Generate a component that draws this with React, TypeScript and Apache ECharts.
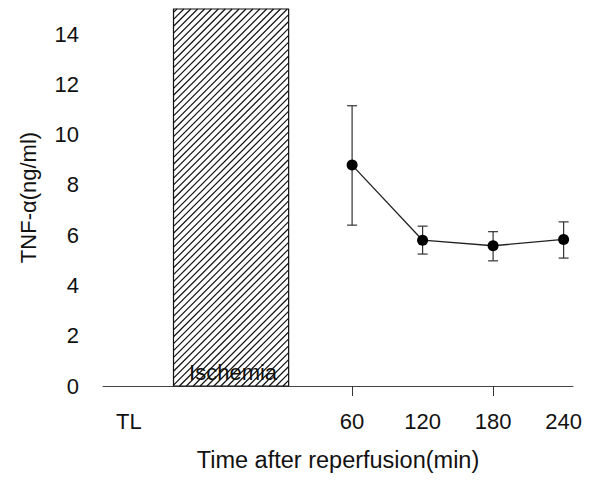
import React, { useEffect, useRef } from "react";
import * as echarts from "echarts";

// ---- data ----
const times = [60, 120, 180, 240];
const means = [8.79, 5.8, 5.58, 5.83];
const errUpper = [11.15, 6.36, 6.14, 6.53];
const errLower = [6.4, 5.25, 4.98, 5.09];

const xLabelValues = [-130, 60, 120, 180, 240];
const xLabelTexts = ["TL", "60", "120", "180", "240"];
const xTickValues = [60, 180];
const yTickValues = [0, 2, 4, 6, 8, 10, 12, 14];

const ischemiaStart = -92;
const ischemiaEnd = 6;
const ischemiaLabel = "Ischemia";

const FONT = "Liberation Sans, Arial, sans-serif";

export default function App() {
  const ref = useRef<HTMLDivElement>(null);

  useEffect(() => {
    if (!ref.current) return;
    const chart = echarts.init(ref.current, undefined, { renderer: "svg" });

    const errData = times.map((t, i) => [t, errLower[i], errUpper[i]]);
    const lineData = times.map((t, i) => [t, means[i]]);

    chart.setOption({
      animation: false,
      backgroundColor: "#ffffff",
      grid: { left: 103, right: 21, top: 9, bottom: 94, containLabel: false, outerBoundsMode: "none" },
      xAxis: {
        type: "value",
        min: -152,
        max: 248,
        name: "Time after reperfusion(min)",
        nameLocation: "middle",
        nameGap: 62,
        nameTextStyle: { fontFamily: FONT, fontSize: 23.5, color: "#111" },
        axisLine: { show: true, lineStyle: { color: "#444", width: 1 } },
        axisTick: { show: true, length: 10, inside: false, customValues: xTickValues, lineStyle: { color: "#333" } },
        axisLabel: {
          customValues: xLabelValues,
          margin: 24,
          fontFamily: FONT,
          fontSize: 22,
          color: "#111",
          formatter: (v: number) => {
            const i = xLabelValues.indexOf(v);
            return i >= 0 ? xLabelTexts[i] : "";
          },
        },
        splitLine: { show: false },
      },
      yAxis: {
        type: "value",
        min: 0,
        max: 15,
        name: "TNF-α(ng/ml)",
        nameLocation: "middle",
        nameGap: 64,
        nameTextStyle: { fontFamily: FONT, fontSize: 22, color: "#111" },
        axisLine: { show: true, lineStyle: { color: "#444", width: 1 } },
        axisTick: { show: true, length: 10, inside: false, customValues: yTickValues, lineStyle: { color: "#444" } },
        axisLabel: {
          customValues: yTickValues,
          margin: 24,
          fontFamily: FONT,
          fontSize: 22,
          color: "#111",
        },
        splitLine: { show: false },
      },
      series: [
        {
          type: "custom",
          name: "ischemia",
          z: 1,
          clip: false,
          data: [[ischemiaStart, ischemiaEnd, 0, 15]],
          renderItem: (params: any, api: any) => {
            const p0 = api.coord([api.value(0), api.value(3)]);
            const p1 = api.coord([api.value(1), api.value(2)]);
            const x0 = p0[0], y0 = p0[1], x1 = p1[0], y1 = p1[1];
            const children: any[] = [];
            children.push({
              type: "rect",
              shape: { x: x0, y: y0, width: x1 - x0, height: y1 - y0 },
              style: { fill: "#fff", stroke: "#111", lineWidth: 1.2 },
            });
            const step = 6.9;
            // lines px + py = k (rising to the right)
            for (let k = x0 + y0 + step / 2; k < x1 + y1; k += step) {
              const ax = Math.max(x0, k - y1);
              const bx = Math.min(x1, k - y0);
              if (bx <= ax) continue;
              children.push({
                type: "line",
                shape: { x1: ax, y1: k - ax, x2: bx, y2: k - bx },
                style: { stroke: "#111", lineWidth: 1.2 },
              });
            }
            children.push({
              type: "text",
              style: {
                x: (x0 + x1) / 2 + 2,
                y: y1 - 3,
                text: ischemiaLabel,
                fontFamily: FONT,
                fontSize: 22,
                fill: "#111",
                align: "center",
                verticalAlign: "bottom",
              },
            });
            return { type: "group", children };
          },
        },
        {
          type: "custom",
          name: "error",
          z: 2,
          data: errData,
          renderItem: (params: any, api: any) => {
            const x = api.value(0);
            const lo = api.coord([x, api.value(1)]);
            const hi = api.coord([x, api.value(2)]);
            const cw = 5;
            const st = { stroke: "#333", lineWidth: 1.2 };
            return {
              type: "group",
              children: [
                { type: "line", shape: { x1: lo[0], y1: lo[1], x2: hi[0], y2: hi[1] }, style: st },
                { type: "line", shape: { x1: hi[0] - cw, y1: hi[1], x2: hi[0] + cw, y2: hi[1] }, style: st },
                { type: "line", shape: { x1: lo[0] - cw, y1: lo[1], x2: lo[0] + cw, y2: lo[1] }, style: st },
              ],
            };
          },
        },
        {
          type: "line",
          name: "TNF",
          z: 3,
          data: lineData,
          symbol: "circle",
          symbolSize: 11,
          itemStyle: { color: "#000" },
          lineStyle: { color: "#222", width: 1.3 },
        },
      ],
    });

    return () => chart.dispose();
  }, []);

  return (
    <div
      ref={ref}
      style={{ position: "absolute", left: 0, top: 0, width: 594, height: 480 }}
    />
  );
}
